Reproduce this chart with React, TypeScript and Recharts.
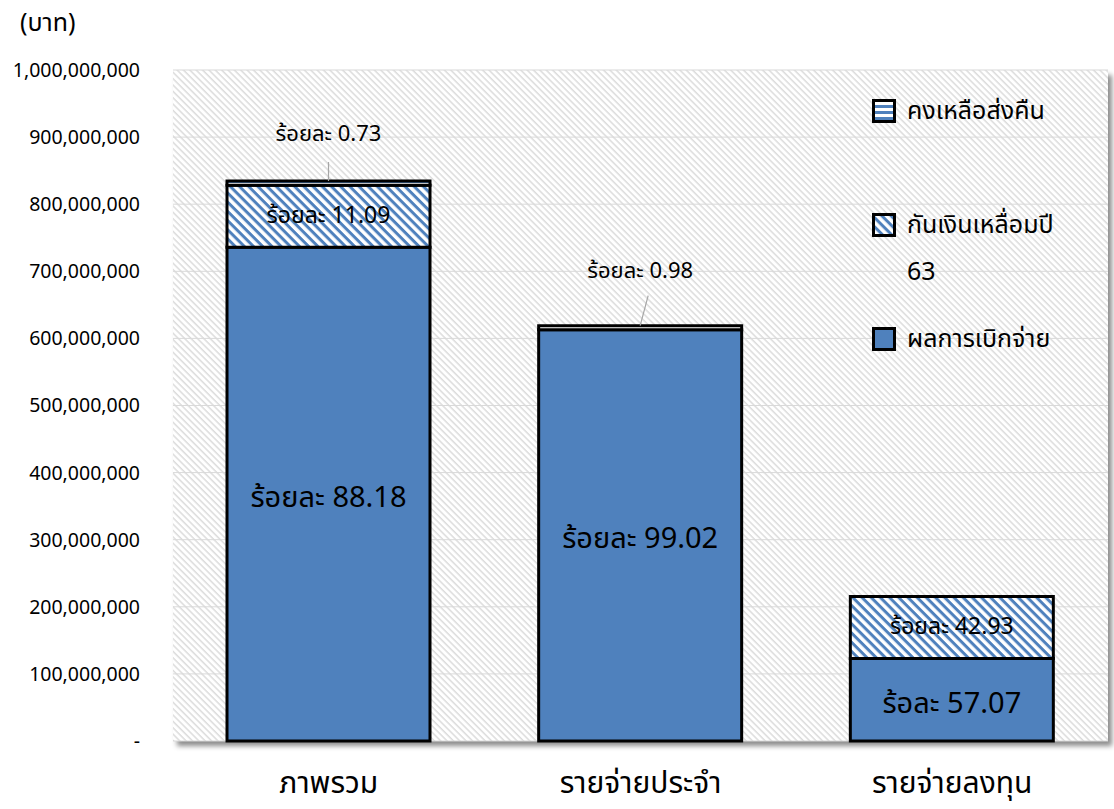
import { BarChart, Bar, XAxis, YAxis, CartesianGrid, Legend, LabelList } from 'recharts'

const FONT = "Tahoma, 'Noto Sans Thai', 'Noto Sans', sans-serif"

// ข้อมูล (บาท)
const categories = ['ภาพรวม', 'รายจ่ายประจำ', 'รายจ่ายลงทุน']
const disbursed = [735900000, 612900000, 123000000]
const reserved = [92500000, 0, 92500000]
const remaining = [6100000, 6100000, 0]

const disbursedPct = ['ร้อยละ 88.18', 'ร้อยละ 99.02', 'ร้อละ 57.07']
const reservedPct = ['ร้อยละ 11.09', '', 'ร้อยละ 42.93']
const remainingPct = ['ร้อยละ 0.73', 'ร้อยละ 0.98', '']

const seriesNames = ['ผลการเบิกจ่าย', 'กันเงินเหลื่อมปี 63', 'คงเหลือส่งคืน']
const yTicks = [0, 100000000, 200000000, 300000000, 400000000, 500000000, 600000000, 700000000, 800000000, 900000000, 1000000000]

const BLUE = '#4f81bd'

const data = categories.map((name, i) => ({
  name,
  disbursed: disbursed[i],
  reserved: reserved[i],
  remaining: remaining[i],
  disbursedLabel: disbursedPct[i],
  reservedLabel: reservedPct[i],
  remainingLabel: remainingPct[i],
}))

function Patterns({ prefix }: { prefix: string }) {
  return (
    <defs>
      <pattern id={`${prefix}bg`} patternUnits="userSpaceOnUse" width="4.5" height="4.5" patternTransform="rotate(45)">
        <rect width="4.5" height="4.5" fill="#fff" />
        <rect width="4.5" height="1.5" fill="#dcdcdc" />
      </pattern>
      <pattern id={`${prefix}diag`} patternUnits="userSpaceOnUse" width="6.5" height="6.5" patternTransform="rotate(45)">
        <rect width="6.5" height="6.5" fill="#fff" />
        <rect width="6.5" height="3" fill={BLUE} />
      </pattern>
      <pattern id={`${prefix}horiz`} patternUnits="userSpaceOnUse" width="6" height="6">
        <rect width="6" height="6" fill="#fff" />
        <rect width="6" height="3" fill={BLUE} />
      </pattern>
    </defs>
  )
}

const insideLabel = (size: number, dy = 0) => (p: any) => {
  const t = p.value
  if (!t) return null
  return (
    <text
      x={p.x + p.width / 2}
      y={p.y + p.height / 2 + dy}
      textAnchor="middle"
      dominantBaseline="central"
      fontSize={size}
      fontFamily={FONT}
      fill="#000"
    >
      {t}
    </text>
  )
}

// leader-line label above the bar top
const aboveLabel = (p: any) => {
  const t = p.value
  if (!t) return null
  const cx = p.x + p.width / 2
  const top = p.y
  const slanted = t === remainingPct[1]
  const lift = slanted ? 54 : 47
  return (
    <g>
      <line
        x1={cx}
        y1={top}
        x2={cx + (slanted ? 8 : 0)}
        y2={top - (slanted ? 30 : 19)}
        stroke="#a6a6a6"
        strokeWidth={1.2}
      />
      <text
        x={cx}
        y={top - lift}
        textAnchor="middle"
        dominantBaseline="central"
        fontSize={22}
        fontFamily={FONT}
        fill="#000"
      >
        {t}
      </text>
    </g>
  )
}

function LegendIcon({ fill }: { fill: string }) {
  return (
    <svg width={24} height={24} style={{ display: 'block' }}>
      <Patterns prefix="lg-" />
      <rect x={1.5} y={1.5} width={21} height={21} fill={fill} stroke="#000" strokeWidth={3} />
    </svg>
  )
}

function LegendBox() {
  const textStyle = { fontSize: 25, fontFamily: FONT, color: '#000', lineHeight: '28px' }
  const row = { position: 'absolute' as const, left: 4, display: 'flex', alignItems: 'center', gap: 11 }
  return (
    <div style={{ position: 'relative', width: 240, height: 260 }}>
      <div style={{ ...row, top: 3 }}>
        <LegendIcon fill="url(#lg-horiz)" />
        <span style={textStyle}>{seriesNames[2]}</span>
      </div>
      <div style={{ ...row, top: 117 }}>
        <LegendIcon fill="url(#lg-diag)" />
        <span style={textStyle}>{seriesNames[1].split(' ')[0]}</span>
      </div>
      <div style={{ position: 'absolute', top: 164, left: 39, ...textStyle }}>{seriesNames[1].split(' ')[1]}</div>
      <div style={{ ...row, top: 231 }}>
        <LegendIcon fill={BLUE} />
        <span style={textStyle}>{seriesNames[0]}</span>
      </div>
    </div>
  )
}

export default function App() {
  return (
    <div style={{ position: 'absolute', left: 0, top: 0, width: 1114, height: 809, background: '#fff' }}>
      {/* plot-area shadow */}
      <div
        style={{
          position: 'absolute',
          left: 173,
          top: 70,
          width: 935,
          height: 671,
          boxShadow: '4px 5px 5px rgba(0,0,0,0.45)',
        }}
      />
      <div style={{ position: 'absolute', left: 0, top: 0 }}>
        <BarChart
          width={1114}
          height={809}
          data={data}
          margin={{ top: 70, right: 6, bottom: 8, left: 8 }}
          barSize={203}
        >
          <Patterns prefix="" />
          <CartesianGrid vertical={false} stroke="#d9d9d9" strokeWidth={1} fill="url(#bg)" fillOpacity={1} />
          <XAxis
            dataKey="name"
            height={60}
            axisLine={false}
            tickLine={false}
            tickSize={0}
            tickMargin={31}
            tick={{ fontSize: 30, fill: '#000', fontFamily: FONT }}
          />
          <YAxis
            width={165}
            domain={[0, 1000000000]}
            ticks={yTicks}
            interval={0}
            axisLine={false}
            tickLine={false}
            tickSize={0}
            tickMargin={33}
            tick={{ fontSize: 19.5, fill: '#000', fontFamily: FONT }}
            tickFormatter={(v: number) => (v === 0 ? '-' : v.toLocaleString('en-US'))}
            label={{
              content: (p: any) => (
                <text x={20} y={p.viewBox.y - 47} dominantBaseline="central" fontSize={25} fontFamily={FONT} fill="#000">
                  (บาท)
                </text>
              ),
            }}
          />
          <Legend
            layout="vertical"
            align="center"
            verticalAlign="middle"
            wrapperStyle={{ top: 94, left: 868, width: 240 }}
            content={() => <LegendBox />}
          />
          <Bar dataKey="disbursed" name={seriesNames[0]} stackId="a" fill={BLUE} stroke="#000" strokeWidth={3} isAnimationActive={false}>
            <LabelList dataKey="disbursedLabel" content={insideLabel(29, 4)} />
          </Bar>
          <Bar dataKey="reserved" name={seriesNames[1]} stackId="a" fill="url(#diag)" stroke="#000" strokeWidth={3} isAnimationActive={false}>
            <LabelList dataKey="reservedLabel" content={insideLabel(23)} />
          </Bar>
          <Bar dataKey="remaining" name={seriesNames[2]} stackId="a" fill="url(#horiz)" stroke="#000" strokeWidth={3} isAnimationActive={false}>
            <LabelList dataKey="remainingLabel" content={aboveLabel} />
          </Bar>
        </BarChart>
      </div>
    </div>
  )
}
